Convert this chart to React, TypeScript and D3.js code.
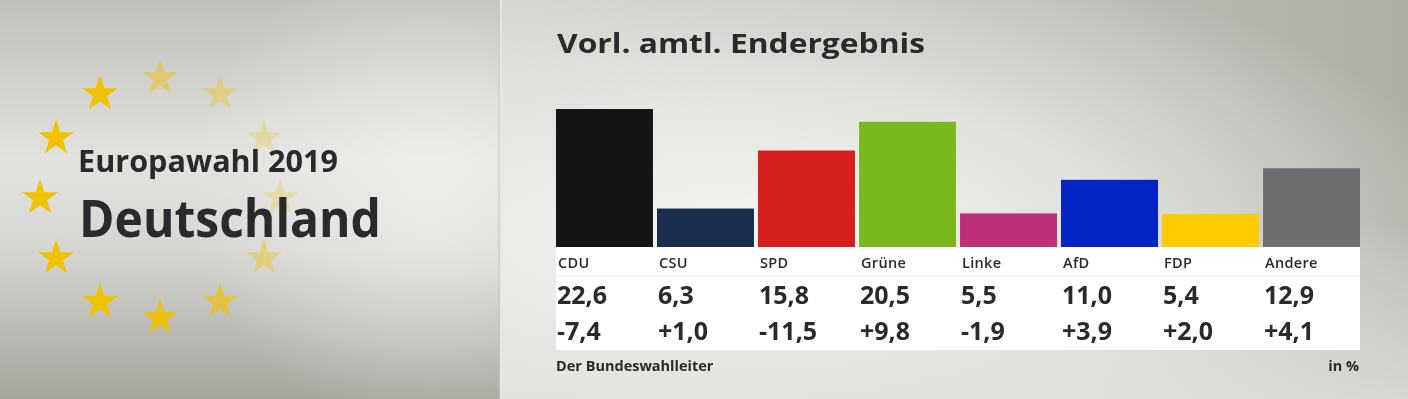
import React from 'react';
import * as d3 from 'd3';

const parties = ['CDU', 'CSU', 'SPD', 'Grüne', 'Linke', 'AfD', 'FDP', 'Andere'];
const results = [22.6, 6.3, 15.8, 20.5, 5.5, 11.0, 5.4, 12.9];
const changes = ['-7,4', '+1,0', '-11,5', '+9,8', '-1,9', '+3,9', '+2,0', '+4,1'];
const partyColors = ['#151515', '#1b2d4d', '#d81f20', '#79b91e', '#bd2f77', '#0424c4', '#fecb00', '#6e6f71'];
const starOpacity = [0.45, 0.35, 0.25, 0.25, 0.4, 0.65, 0.9, 1, 1, 1, 1, 1];

const W = 1408;
const H = 399;
const font = "'Open Sans', 'Noto Sans', sans-serif";
const ink = '#2a2a2a';

const fmt = (v: number) => v.toFixed(1).replace('.', ',');

const App = () => {
  const x = d3.scaleBand<string>().domain(parties).range([556, 1360]).paddingInner(0.04);
  const y = d3.scaleLinear().domain([0, 22.6]).range([247, 109]);

  const star = d3.symbol().type(d3.symbolStar).size(400)();
  const ring = d3.range(12).map((i) => {
    const a = -Math.PI / 2 + (i * Math.PI) / 6;
    return { cx: 160 + 120 * Math.cos(a), cy: 198 + 120 * Math.sin(a), op: starOpacity[i] };
  });

  return (
    <div style={{ position: 'fixed', left: 0, top: 0 }}>
      <svg width={W} height={H} style={{ display: 'block' }}>
        <defs>
          <linearGradient id="leftBg" x1="0" y1="0" x2="0" y2="1">
            <stop offset="0" stopColor="#c0bfba" />
            <stop offset="0.4" stopColor="#e2e2de" />
            <stop offset="0.62" stopColor="#d6d6d2" />
            <stop offset="1" stopColor="#a5a49d" />
          </linearGradient>
          <radialGradient id="leftGlow" cx="430" cy="190" r="240" gradientUnits="userSpaceOnUse">
            <stop offset="0" stopColor="#f2f2ee" stopOpacity="0.7" />
            <stop offset="1" stopColor="#f2f2ee" stopOpacity="0" />
          </radialGradient>
          <linearGradient id="rightBg" x1="0" y1="0" x2="1" y2="0">
            <stop offset="0" stopColor="#d1d1cc" />
            <stop offset="1" stopColor="#afaea7" />
          </linearGradient>
          <radialGradient id="rightGlow" cx="760" cy="250" r="560" gradientUnits="userSpaceOnUse"
            gradientTransform="translate(760 250) scale(1.3 0.55) translate(-760 -250)">
            <stop offset="0" stopColor="#f8f8f4" stopOpacity="1" />
            <stop offset="0.5" stopColor="#f0f0ec" stopOpacity="0.7" />
            <stop offset="1" stopColor="#f0f0ec" stopOpacity="0" />
          </radialGradient>
          <linearGradient id="rightBottom" x1="0" y1="0" x2="0" y2="1">
            <stop offset="0.55" stopColor="#e8e8e4" stopOpacity="0" />
            <stop offset="1" stopColor="#e2e2de" stopOpacity="0.8" />
          </linearGradient>
        </defs>

        {/* left panel */}
        <rect x={0} y={0} width={500} height={H} fill="url(#leftBg)" />
        <rect x={0} y={0} width={500} height={H} fill="url(#leftGlow)" />
        <rect x={498} y={0} width={4} height={H} fill="#c4c3bd" opacity={0.4} />

        {ring.map((s, i) => (
          <path key={i} d={star ?? ''} transform={`translate(${s.cx},${s.cy})`} fill="#f1c200" opacity={s.op} />
        ))}

        <text x={78} y={172} fontFamily={font} fontWeight={700} fontSize={30} fill={ink}
          textLength={260} lengthAdjust="spacingAndGlyphs">
          Europawahl 2019
        </text>
        <text x={79} y={237} fontFamily={font} fontWeight={700} fontSize={52} fill={ink}
          textLength={302} lengthAdjust="spacingAndGlyphs">
          Deutschland
        </text>

        {/* right panel */}
        <rect x={502} y={0} width={W - 502} height={H} fill="url(#rightBg)" />
        <rect x={502} y={0} width={W - 502} height={H} fill="url(#rightGlow)" />
        <rect x={502} y={0} width={W - 502} height={H} fill="url(#rightBottom)" />

        <text x={557} y={53} fontFamily={font} fontWeight={700} fontSize={26} fill={ink}
          textLength={368} lengthAdjust="spacingAndGlyphs">
          Vorl. amtl. Endergebnis
        </text>

        {parties.map((p, i) => (
          <rect key={p} x={x(p)} y={y(results[i])} width={x.bandwidth()} height={y(0) - y(results[i])} fill={partyColors[i]} />
        ))}

        <rect x={556} y={y(0)} width={1360 - 556} height={350 - y(0)} fill="#ffffff" />
        <line x1={556} x2={1360} y1={276} y2={276} stroke="#eeeeee" strokeWidth={1} />

        {parties.map((p, i) => (
          <g key={p} fontFamily={font} fill={ink}>
            <text x={(x(p) ?? 0) + 2} y={268} fontSize={14.5} fontWeight={600} letterSpacing={0.3}>{p}</text>
            <text x={(x(p) ?? 0) + 1} y={304} fontSize={25} fontWeight={700}>{fmt(results[i])}</text>
            <text x={(x(p) ?? 0) + 1} y={340} fontSize={25} fontWeight={700}>{changes[i]}</text>
          </g>
        ))}

        <text x={556} y={371} fontFamily={font} fontWeight={700} fontSize={14.5} fill={ink}>
          Der Bundeswahlleiter
        </text>
        <text x={1359} y={371} textAnchor="end" fontFamily={font} fontWeight={700} fontSize={14.5} fill={ink}>
          in %
        </text>
      </svg>
    </div>
  );
};

export default App;
